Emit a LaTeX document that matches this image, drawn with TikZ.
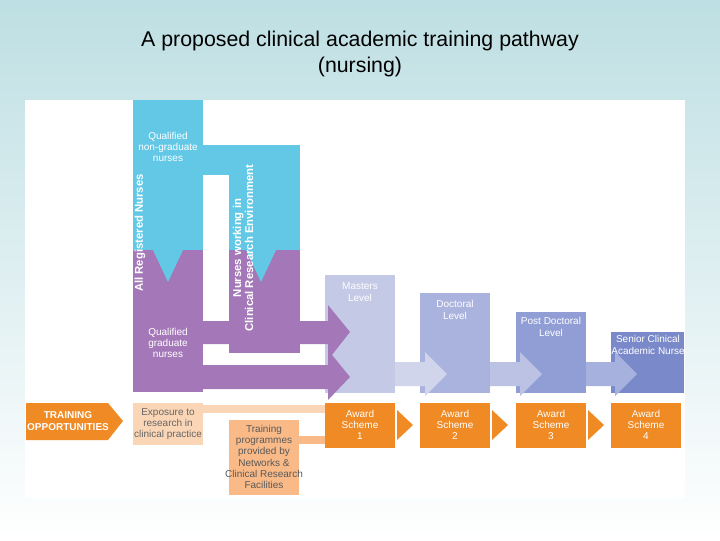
\documentclass[tikz,border=0pt]{standalone}
\usepackage{fontspec}
\setmainfont{Liberation Sans}
\begin{document}
\begin{tikzpicture}[x=0.75pt,y=-0.75pt,
  lbl/.style={text=white,font=\fontsize{7.5}{8.5}\selectfont,align=center,inner sep=1pt},
  vlbl/.style={text=white,font=\bfseries\fontsize{8.5}{9}\selectfont,align=center,rotate=90,inner sep=0pt}]
\definecolor{cy}{HTML}{62C8E6}
\definecolor{pu}{HTML}{A478B8}
\definecolor{l1}{HTML}{C4CAE6}
\definecolor{l2}{HTML}{AAB3DE}
\definecolor{l3}{HTML}{919ED5}
\definecolor{l4}{HTML}{7A89C9}
\definecolor{or}{HTML}{F08A24}
\definecolor{pe}{HTML}{FBD6B6}
\definecolor{pe2}{HTML}{F9BA88}
\definecolor{bg}{HTML}{BEDFE3}
\useasboundingbox (0,0) rectangle (720,540);
\shade[top color=bg,bottom color=white] (0,0) rectangle (720,540);
\fill[white] (25,100) rectangle (685,498);
\node[font=\fontsize{16}{19}\selectfont,align=center] (title) at (360,54) {A proposed clinical academic training pathway\\(nursing)};
% level boxes
\fill[l1] (325,275) rectangle (395,393);
\fill[l2] (420,293) rectangle (490,393);
\fill[l3] (516,312) rectangle (586,393);
\fill[l4] (611,332) rectangle (684,393);
% arrows between levels
\fill[l1!80!white] (395,362) -- (425,362) -- (425,352) -- (447,374) -- (425,396) -- (425,386) -- (395,386) -- cycle;
\fill[l2!80!white] (490,362) -- (520,362) -- (520,352) -- (542,374) -- (520,396) -- (520,386) -- (490,386) -- cycle;
\fill[l3!80!white] (586,362) -- (615,362) -- (615,352) -- (637,374) -- (615,396) -- (615,386) -- (586,386) -- cycle;
\node[lbl,text=white] (ma) at (360,292) {Masters\\Level};
\node[lbl] (dl) at (455,310) {Doctoral\\Level};
\node[lbl] (pd) at (551,327) {Post Doctoral\\Level};
\node[lbl] (sc) at (648,345) {Senior Clinical\\Academic Nurse};
% columns
\fill[cy] (133,100) rectangle (203,250);
\fill[cy] (203,145) rectangle (300,175);
\fill[cy] (229,145) rectangle (300,250);
\fill[pu] (133,250) rectangle (203,392);
\fill[pu] (229,250) rectangle (300,353);
\fill[cy] (153,250) -- (183,250) -- (168,282) -- cycle;
\fill[cy] (246,250) -- (276,250) -- (261,282) -- cycle;
% purple arrows
\fill[pu] (203,321) -- (328,321) -- (328,305) -- (350,332) -- (328,360) -- (328,344) -- (203,344) -- cycle;
\fill[pu] (203,365) -- (328,365) -- (328,350) -- (350,377) -- (328,400) -- (328,389) -- (203,389) -- cycle;
\node[lbl] (qn) at (168,147) {Qualified\\non-graduate\\nurses};
\node[lbl] (qg) at (168,343) {Qualified\\graduate\\nurses};
\node[vlbl] (arn) at (140,233) {All Registered Nurses};
\node[vlbl] (nw) at (243,248) {Nurses working in\\Clinical Research Environment};
% bottom row
\fill[or] (26,403) -- (108,403) -- (123,421) -- (108,440) -- (26,440) -- cycle;
\node[lbl,font=\bfseries\fontsize{7.5}{8.5}\selectfont] (to) at (68,421) {TRAINING\\OPPORTUNITIES};
\fill[pe] (133,403) rectangle (203,445);
\node[lbl,text=gray!80!black] (ex) at (168,424) {Exposure to\\research in\\clinical practice};
\fill[pe2] (229,420) rectangle (299,495);
\node[lbl,text=gray!70!black] (tp) at (264,457) {Training\\programmes\\provided by\\Networks \&\\Clinical Research\\Facilities};
\draw[pe,line width=6,line cap=round] (203,409) -- (328,409);
\draw[pe2,line width=6,line cap=round] (299,440) -- (328,440);
\foreach \x/\n in {325/1,420/2,516/3,611/4}{
  \fill[or] (\x,403) rectangle ++(70,45);
  \node[lbl] (aw\n) at (\x+35,425) {Award\\Scheme\\\n};
}
\foreach \x in {397,492,588}{
  \fill[or] (\x,410) -- (\x+16,425) -- (\x,440) -- cycle;
}
\end{tikzpicture}
\end{document}
